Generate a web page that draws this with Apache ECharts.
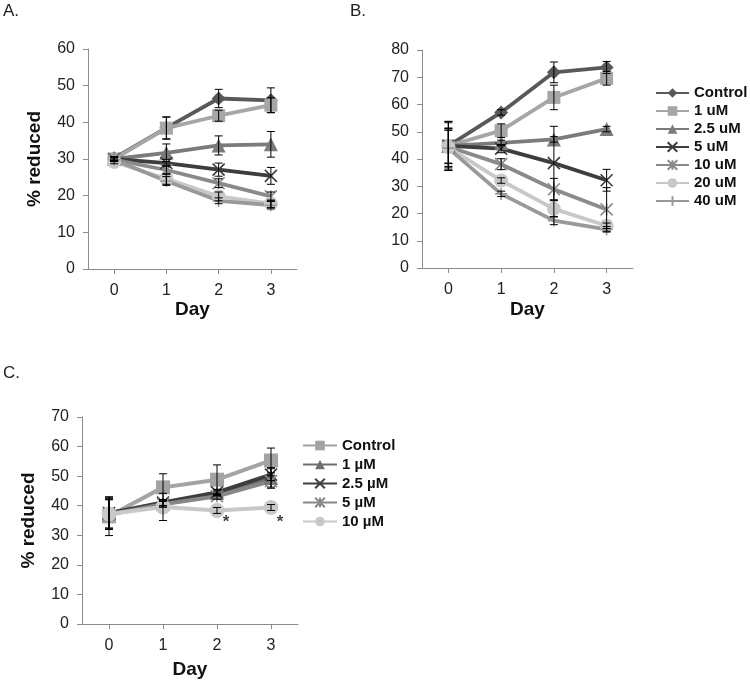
<!DOCTYPE html>
<html>
<head>
<meta charset="utf-8">
<script src="https://cdn.jsdelivr.net/npm/echarts@6/dist/echarts.min.js"></script>
<style>
html,body{margin:0;padding:0;background:#fff;}
#chart{width:750px;height:682px;}
</style>
</head>
<body>
<div id="chart"></div>
<script>
// ---------- data ----------
const days = ['0', '1', '2', '3'];
const yTicksA = [0, 10, 20, 30, 40, 50, 60];
const yTicksB = [0, 10, 20, 30, 40, 50, 60, 70, 80];
const yTicksC = [0, 10, 20, 30, 40, 50, 60, 70];

// Panel A (% reduced)
const aNames = ['Control', '1 uM', '2.5 uM', '5 uM', '10 uM', '20 uM', '40 uM'];
const aControl = [30.2, 38.5, 46.5, 46.0];
const a1uM     = [30.0, 38.4, 41.8, 44.7];
const a25uM    = [30.0, 31.7, 33.7, 34.0];
const a5uM     = [30.0, 28.9, 27.1, 25.4];
const a10uM    = [29.8, 27.0, 23.4, 19.8];
const a20uM    = [29.2, 24.6, 19.8, 17.8];
const a40uM    = [29.8, 24.0, 18.6, 17.4];
const aErrControl = [0.5, 3.0, 2.5, 3.4];
const aErr1uM     = [0.5, 3.0, 1.5, 2.0];
const aErr25uM    = [0.5, 2.4, 2.6, 3.5];
const aErr5uM     = [0.5, 1.0, 1.8, 2.3];
const aErr10uM    = [0.5, 1.2, 1.2, 1.2];
const aErr20uM    = [0.5, 1.5, 1.2, 1.0];
const aErr40uM    = [0.5, 1.2, 0.8, 1.0];

// Panel B
const bNames = ['Control', '1 uM', '2.5 uM', '5 uM', '10 uM', '20 uM', '40 uM'];
const bControl = [44.8, 57.1, 71.8, 73.6];
const b1uM     = [44.8, 50.4, 62.6, 69.6];
const b25uM    = [44.8, 45.9, 47.2, 51.0];
const b5uM     = [44.8, 43.8, 38.5, 32.2];
const b10uM    = [44.5, 38.1, 28.9, 21.5];
const b20uM    = [44.3, 32.1, 21.7, 15.5];
const b40uM    = [44.0, 27.2, 17.4, 14.2];
const bErrControl = [9.0, 1.0, 3.8, 2.2];
const bErr1uM     = [9.0, 2.5, 4.5, 2.5];
const bErr25uM    = [8.5, 1.0, 1.0, 1.0];
const bErr5uM     = [6.5, 1.5, 13.5, 4.0];
const bErr10uM    = [6.0, 2.0, 4.0, 8.0];
const bErr20uM    = [7.0, 1.0, 3.0, 1.0];
const bErr40uM    = [7.0, 1.0, 1.5, 1.0];

// Panel C
const cNames = ['Control', '1 µM', '2.5 µM', '5 µM', '10 µM'];
const cControl = [36.4, 46.2, 48.8, 55.3];
const c1uM     = [37.5, 40.6, 44.3, 49.4];
const c25uM    = [37.5, 41.1, 44.5, 50.5];
const c5uM     = [37.0, 40.5, 43.2, 48.3];
const c10uM    = [37.2, 39.6, 38.4, 39.4];
const cErrControl = [6.5, 4.6, 5.0, 4.2];
const cErr1uM     = [5.0, 1.0, 1.0, 3.5];
const cErr25uM    = [5.5, 1.0, 1.0, 2.0];
const cErr5uM     = [5.0, 1.0, 1.0, 2.0];
const cErr10uM    = [5.0, 4.6, 1.0, 1.0];
// significance markers (day index, value)
const cSigDays = ['2', '3'];
const cSigVals = [34.3, 34.3];

// ---------- styles ----------
const FONT = '"Liberation Sans", Arial, sans-serif';
const X_SYM = 'path://M0,0L10,10M10,0L0,10';
const STAR_SYM = 'path://M5,0L5,10M0,0L10,10M10,0L0,10';
const PLUS_SYM = 'path://M5,0L5,10M0,5L10,5';
const styleAB = [
  {color: '#595959', symbol: 'diamond', size: 14, stroke: false},
  {color: '#a6a6a6', symbol: 'rect', size: 13, stroke: false},
  {color: '#7b7b7b', symbol: 'triangle', size: 14, stroke: false},
  {color: '#3d3d3d', symbol: X_SYM, size: 12, stroke: true},
  {color: '#8a8a8a', symbol: STAR_SYM, size: 12, stroke: true},
  {color: '#c8c8c8', symbol: 'circle', size: 14, stroke: false},
  {color: '#999999', symbol: PLUS_SYM, size: 12, stroke: true}
];
const styleC = [
  {color: '#a3a3a3', symbol: 'rect', size: 14, stroke: false},
  {color: '#6e6e6e', symbol: 'triangle', size: 14, stroke: false},
  {color: '#3d3d3d', symbol: X_SYM, size: 12, stroke: true},
  {color: '#878787', symbol: STAR_SYM, size: 12, stroke: true},
  {color: '#c8c8c8', symbol: 'circle', size: 15, stroke: false}
];

function lineSeries(name, data, idx, st, width) {
  return {
    name: name, type: 'line', data: data,
    xAxisIndex: idx, yAxisIndex: idx,
    symbol: st.symbol, symbolSize: st.size,
    lineStyle: {color: st.color, width: width},
    itemStyle: st.stroke ? {color: st.color, borderColor: st.color, borderWidth: 1.6}
                         : {color: st.color, borderWidth: 0},
    emphasis: {disabled: true},
    animation: false, z: 3
  };
}

function errSeries(idx, valsList, errsList) {
  const data = [];
  valsList.forEach((vals, s) => {
    vals.forEach((v, i) => data.push([i, v, errsList[s][i]]));
  });
  return {
    type: 'custom', xAxisIndex: idx, yAxisIndex: idx, data: data, z: 5,
    silent: true, animation: false,
    renderItem: function (params, api) {
      const x = api.value(0), y = api.value(1), e = api.value(2);
      const t = api.coord([x, y + e]);
      const b = api.coord([x, y - e]);
      const hw = 4;
      const st = {stroke: '#000', lineWidth: 1};
      return {type: 'group', children: [
        {type: 'line', shape: {x1: t[0], y1: t[1], x2: b[0], y2: b[1]}, style: st},
        {type: 'line', shape: {x1: t[0] - hw, y1: t[1], x2: t[0] + hw, y2: t[1]}, style: st},
        {type: 'line', shape: {x1: b[0] - hw, y1: b[1], x2: b[0] + hw, y2: b[1]}, style: st}
      ]};
    }
  };
}

function xAx(idx, gap) {
  return {
    type: 'category', gridIndex: idx, data: days, boundaryGap: true,
    name: 'Day', nameLocation: 'middle', nameGap: gap,
    nameTextStyle: {fontFamily: FONT, fontSize: 19, fontWeight: 'bold', color: '#111'},
    axisLine: {lineStyle: {color: '#8c8c8c', width: 1}},
    axisTick: {show: true, alignWithLabel: true, length: 5, lineStyle: {color: '#8c8c8c'}},
    axisLabel: {fontFamily: FONT, fontSize: 16, color: '#222', margin: 14},
    splitLine: {show: false}
  };
}
function yAx(idx, ticks, name) {
  return {
    type: 'value', gridIndex: idx, min: ticks[0], max: ticks[ticks.length - 1], interval: 10,
    name: name, nameLocation: 'middle', nameGap: 44, nameRotate: 90,
    nameTextStyle: {fontFamily: FONT, fontSize: 19, fontWeight: 'bold', color: '#111'},
    axisLine: {show: true, lineStyle: {color: '#8c8c8c', width: 1}},
    axisTick: {show: true, length: 5, lineStyle: {color: '#8c8c8c'}},
    axisLabel: {fontFamily: FONT, fontSize: 16, color: '#222', margin: 13},
    splitLine: {show: false}
  };
}

const aVals = [aControl, a1uM, a25uM, a5uM, a10uM, a20uM, a40uM];
const aErrs = [aErrControl, aErr1uM, aErr25uM, aErr5uM, aErr10uM, aErr20uM, aErr40uM];
const bVals = [bControl, b1uM, b25uM, b5uM, b10uM, b20uM, b40uM];
const bErrs = [bErrControl, bErr1uM, bErr25uM, bErr5uM, bErr10uM, bErr20uM, bErr40uM];
const cVals = [cControl, c1uM, c25uM, c5uM, c10uM];
const cErrs = [cErrControl, cErr1uM, cErr25uM, cErr5uM, cErr10uM];

const series = [];
aVals.forEach((v, i) => series.push(lineSeries('A ' + aNames[i], v, 0, styleAB[i], 3.8)));
bVals.forEach((v, i) => series.push(lineSeries(bNames[i], v, 1, styleAB[i], 3.8)));
cVals.forEach((v, i) => series.push(lineSeries('C ' + cNames[i], v, 2, styleC[i], 4)));
series.push(errSeries(0, aVals, aErrs));
series.push(errSeries(1, bVals, bErrs));
series.push(errSeries(2, cVals, cErrs));
series.push({
  type: 'scatter', xAxisIndex: 2, yAxisIndex: 2, symbolSize: 0, silent: true, animation: false,
  data: cSigDays.map((d, i) => [d, cSigVals[i]]),
  label: {show: true, formatter: '*', position: 'inside', offset: [9, 0],
          fontFamily: FONT, fontSize: 17, fontWeight: 'bold', color: '#111'}
});

const legendText = {fontFamily: FONT, fontSize: 15, fontWeight: 'bold', color: '#111'};
const titleText = {fontFamily: FONT, fontSize: 17, fontWeight: 'normal', color: '#222'};

const option = {
  backgroundColor: '#fff',
  animation: false,
  title: [
    {text: 'A.', left: 3, top: 3, padding: 0, textStyle: titleText},
    {text: 'B.', left: 350, top: 3, padding: 0, textStyle: titleText},
    {text: 'C.', left: 3, top: 365, padding: 0, textStyle: titleText}
  ],
  grid: [
    {left: 88, top: 49, width: 209, height: 220},
    {left: 422, top: 50, width: 211, height: 218},
    {left: 82, top: 417, width: 216, height: 207}
  ],
  xAxis: [xAx(0, 30), xAx(1, 32), xAx(2, 36)],
  yAxis: [yAx(0, yTicksA, '% reduced'), yAx(1, yTicksB, ''), yAx(2, yTicksC, '% reduced')],
  legend: [
    {
      data: bNames, orient: 'vertical', left: 655, top: 84, padding: 0,
      itemWidth: 33, itemHeight: 12, itemGap: 0,
      textStyle: Object.assign({lineHeight: 18}, legendText),
      selectedMode: false
    },
    {
      data: cNames.map(n => 'C ' + n), orient: 'vertical', left: 302, top: 436, padding: 0,
      itemWidth: 34, itemHeight: 12, itemGap: 0,
      formatter: n => n.slice(2),
      textStyle: Object.assign({lineHeight: 19}, legendText),
      selectedMode: false
    }
  ],
  series: series
};

const chart = echarts.init(document.getElementById('chart'), null, {renderer: 'canvas'});
chart.setOption(option);
</script>
</body>
</html>
